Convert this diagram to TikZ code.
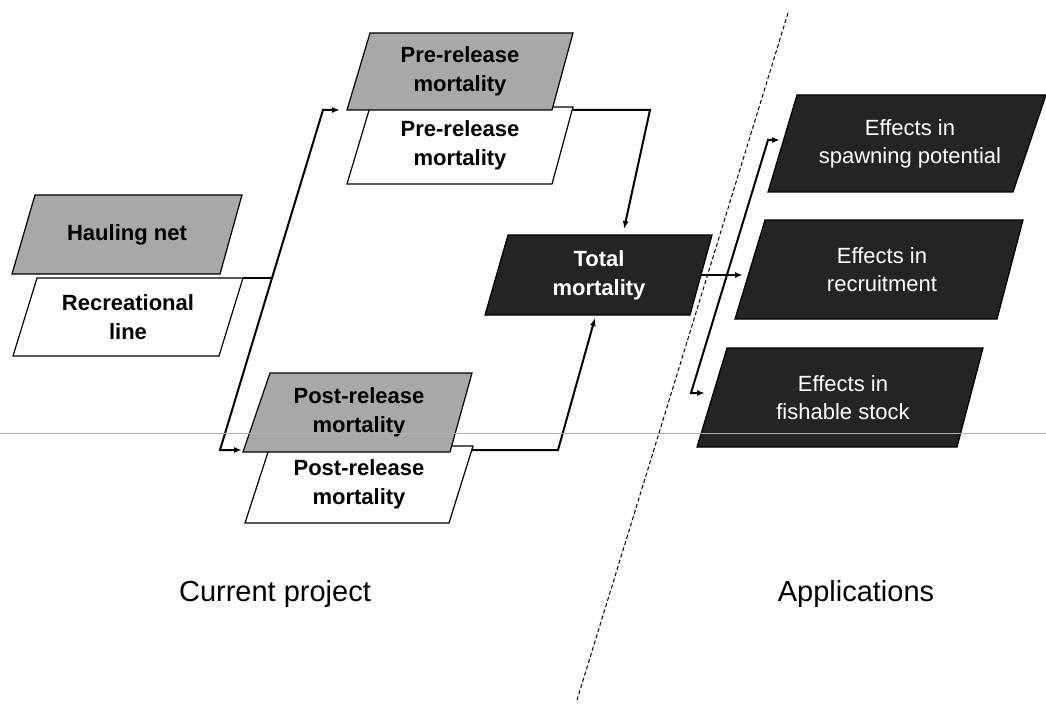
\documentclass[tikz,border=0pt]{standalone}
\usepackage{fontspec}
\setmainfont{Liberation Sans}
\usetikzlibrary{arrows.meta}
\definecolor{boxgray}{RGB}{168,168,168}
\definecolor{boxdark}{RGB}{36,36,36}
\definecolor{scanline}{RGB}{240,150,135}
\begin{document}
\begin{tikzpicture}[x=1pt,y=-1pt,
  box/.style={draw=black, line width=1.2pt, line join=miter},
  graybox/.style={box, fill=boxgray},
  darkbox/.style={box, fill=boxdark},
  whitebox/.style={box, fill=white},
  lbl/.style={font=\fontsize{22}{29}\selectfont\bfseries, align=center, inner sep=0pt},
  wlbl/.style={lbl, text=white},
  elbl/.style={font=\fontsize{22}{28}\selectfont, text=white, align=center, inner sep=0pt},
  caption/.style={font=\fontsize{29}{34}\selectfont, inner sep=0pt},
  tip/.style={-{Latex[length=8pt,width=6pt]}},
  conn/.style={line width=2pt, line join=miter, tip},
  divider/.style={line width=1pt, dash pattern=on 4pt off 2.5pt}
]
\useasboundingbox (0,0) rectangle (1046,722);

% ---- Hauling net / Recreational line
\draw[graybox] (35,195) coordinate (hn-tl) -- (242,195) coordinate (hn-tr)
  -- (220,274) coordinate (hn-br) -- (12,274) coordinate (hn-bl) -- cycle;
\node[lbl] (hn) at (127,234.5) {Hauling net};
\draw[whitebox] (37,278) coordinate (rl-tl) -- (243,278) coordinate (rl-tr)
  -- (219,356) coordinate (rl-br) -- (13,356) coordinate (rl-bl) -- cycle;
\node[lbl] (rl) at (128,317) {Recreational\\line};

% ---- Pre-release
\draw[whitebox] (370,107) coordinate (pw-tl) -- (573,107) coordinate (pw-tr)
  -- (552,184) coordinate (pw-br) -- (347,184) coordinate (pw-bl) -- cycle;
\node[lbl] (pw) at (460,145.5) {Pre-release\\mortality};
\draw[graybox] (370,33) coordinate (pg-tl) -- (573,33) coordinate (pg-tr)
  -- (552,110) coordinate (pg-br) -- (347,110) coordinate (pg-bl) -- cycle;
\node[lbl] (pg) at (460,71.5) {Pre-release\\mortality};

% ---- Post-release
\draw[whitebox] (270,446) coordinate (qw-tl) -- (473,446) coordinate (qw-tr)
  -- (449,523) coordinate (qw-br) -- (245,523) coordinate (qw-bl) -- cycle;
\node[lbl] (qw) at (359,484.5) {Post-release\\mortality};
\draw[graybox] (270,373) coordinate (qg-tl) -- (472,373) coordinate (qg-tr)
  -- (450,452) coordinate (qg-br) -- (243,452) coordinate (qg-bl) -- cycle;
\node[lbl] (qg) at (359,412.5) {Post-release\\mortality};

% ---- Total mortality
\draw[darkbox] (508,235) coordinate (tm-tl) -- (712,235) coordinate (tm-tr)
  -- (690,315) coordinate (tm-br) -- (485,315) coordinate (tm-bl) -- cycle;
\node[wlbl] (tm) at (599,275) {Total\\mortality};

% ---- Effects
\draw[darkbox] (797,95) coordinate (e1-tl) -- (1046,95) coordinate (e1-tr)
  -- (1013,192) coordinate (e1-br) -- (768,192) coordinate (e1-bl) -- cycle;
\node[elbl] (e1) at (910,143.5) {Effects in\\spawning potential};
\draw[darkbox] (765,220) coordinate (e2-tl) -- (1023,220) coordinate (e2-tr)
  -- (997,319) coordinate (e2-br) -- (735,319) coordinate (e2-bl) -- cycle;
\node[elbl] (e2) at (882,269.5) {Effects in\\recruitment};
\draw[darkbox] (727,348) coordinate (e3-tl) -- (983,348) coordinate (e3-tr)
  -- (957,447) coordinate (e3-br) -- (697,447) coordinate (e3-bl) -- cycle;
\node[elbl] (e3) at (843,397.5) {Effects in\\fishable stock};

% ---- connectors
\coordinate (split) at (272,278);
\coordinate (up1) at (323,110);
\coordinate (pre-in) at (340,110);
\coordinate (dn1) at (220,450);
\coordinate (post-in) at (242,450);
\draw[line width=2pt] (rl-tr) -- (split);
\draw[conn] (split) -- (up1) -- (pre-in);
\draw[conn] (split) -- (dn1) -- (post-in);

\coordinate (pre-out) at (573,110);
\coordinate (pre-bend) at (650,110);
\coordinate (tm-in-top) at (624,229);
\draw[conn] (pre-out) -- (pre-bend) -- (tm-in-top);

\coordinate (post-out) at (472,450);
\coordinate (post-bend) at (558,450);
\coordinate (tm-in-bot) at (595,318);
\draw[conn] (post-out) -- (post-bend) -- (tm-in-bot);

\coordinate (tm-out) at (701,275);
\coordinate (e2-in) at (743,275);
\draw[conn] (tm-out) -- (e2-in);

\coordinate (br-top) at (768,140);
\coordinate (e1-in) at (780,140);
\coordinate (br-bot) at (691,393);
\coordinate (e3-in) at (705,393);
\draw[line width=2pt, line join=miter, {Latex[length=8pt,width=6pt]}-{Latex[length=8pt,width=6pt]}]
  (e3-in) -- (br-bot) -- (br-top) -- (e1-in);

% ---- divider
\coordinate (div-top) at (788,13);
\coordinate (div-bot) at (577,700);
\draw[divider] (div-top) -- (div-bot);

% ---- captions
\node[caption] (cur) at (275,594) {Current project};
\node[caption] (app) at (856,594) {Applications};

% ---- faint scan line
\draw[scanline, line width=0.8pt] (0,433) -- (1046,433);
\end{tikzpicture}
\end{document}
